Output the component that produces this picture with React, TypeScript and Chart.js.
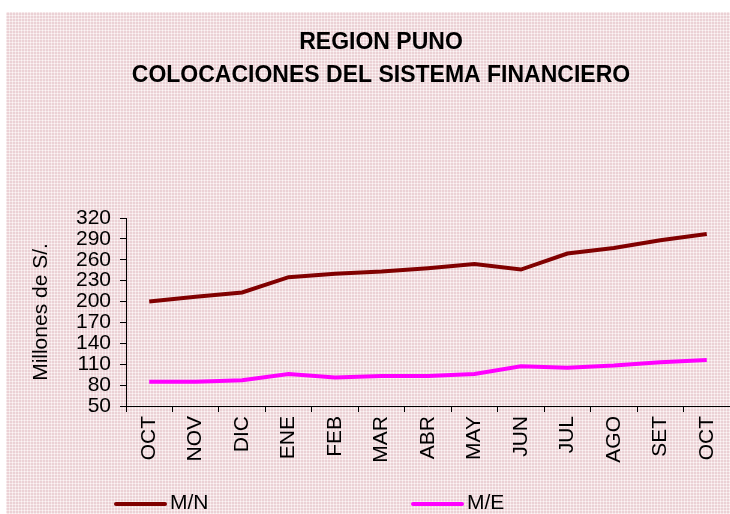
import React, { useEffect, useRef } from "react";
import { Chart, registerables } from "chart.js";

Chart.register(...registerables);

const titleLines = ["REGION PUNO", "COLOCACIONES DEL SISTEMA FINANCIERO"];
const yAxisTitle = "Millones de S/.";
const categories = ["OCT", "NOV", "DIC", "ENE", "FEB", "MAR", "ABR", "MAY", "JUN", "JUL", "AGO", "SET", "OCT"];
const seriesMN = [200, 207, 213, 235, 240, 243, 248, 254, 246, 269, 277, 288, 297];
const seriesME = [85, 85, 87, 96, 91, 93, 93, 96, 107, 105, 108, 113, 116];
const seriesLabels = ["M/N", "M/E"];
const yMin = 50;
const yMax = 320;
const yStep = 30;

const FONT = "'Liberation Sans', Arial, sans-serif";

function makePattern(ctx: CanvasRenderingContext2D) {
  const c = document.createElement("canvas");
  c.width = 3;
  c.height = 3;
  const p = c.getContext("2d")!;
  p.fillStyle = "#ebd1d5";
  p.fillRect(0, 0, 3, 3);
  p.fillStyle = "#f5e6e8";
  p.fillRect(0, 0, 3, 1);
  p.fillRect(0, 0, 1, 3);
  p.fillStyle = "#fcf6f6";
  p.fillRect(0, 0, 1, 1);
  return ctx.createPattern(c, "repeat");
}

const backgroundPlugin = {
  id: "bgPattern",
  beforeDraw(chart: any) {
    const ctx = chart.ctx as CanvasRenderingContext2D;
    ctx.save();
    ctx.fillStyle = "#ffffff";
    ctx.fillRect(0, 0, chart.width, chart.height);
    const pat = makePattern(ctx);
    if (pat) ctx.fillStyle = pat;
    ctx.fillRect(6, 12, chart.width - 6, chart.height - 12);
    ctx.restore();
  },
};

const titlePlugin = {
  id: "customTitle",
  afterDraw(chart: any) {
    const ctx = chart.ctx as CanvasRenderingContext2D;
    ctx.save();
    ctx.fillStyle = "#000000";
    ctx.font = `bold 23px ${FONT}`;
    ctx.textAlign = "center";
    ctx.textBaseline = "middle";
    titleLines.forEach((t, i) => {
      ctx.fillText(t, 381, 43 + i * 33);
    });
    ctx.restore();
  },
};

const legendPlugin = {
  id: "customLegend",
  afterDraw(chart: any) {
    const ctx = chart.ctx as CanvasRenderingContext2D;
    const starts = [115, 412];
    const y = 504;
    ctx.save();
    ctx.font = `21px ${FONT}`;
    ctx.textBaseline = "middle";
    ctx.textAlign = "left";
    chart.data.datasets.forEach((ds: any, i: number) => {
      const x = starts[i];
      ctx.strokeStyle = ds.borderColor;
      ctx.lineWidth = 4;
      ctx.lineCap = "round";
      ctx.beginPath();
      ctx.moveTo(x + 1, y);
      ctx.lineTo(x + 50, y);
      ctx.stroke();
      ctx.fillStyle = "#000000";
      ctx.fillText(ds.label, x + 55, y - 1);
    });
    ctx.restore();
  },
};

export default function App() {
  const ref = useRef<HTMLCanvasElement | null>(null);
  useEffect(() => {
    document.body.style.margin = "0";
    const canvas = ref.current!;
    const chart = new Chart(canvas, {
      type: "line",
      data: {
        labels: categories,
        datasets: [
          {
            label: seriesLabels[0],
            data: seriesMN,
            borderColor: "#800000",
            backgroundColor: "#800000",
            borderWidth: 4,
            pointRadius: 0,
            tension: 0,
          },
          {
            label: seriesLabels[1],
            data: seriesME,
            borderColor: "#ff00ff",
            backgroundColor: "#ff00ff",
            borderWidth: 4,
            pointRadius: 0,
            tension: 0,
          },
        ],
      },
      options: {
        animation: false,
        responsive: false,
        devicePixelRatio: 1,
        layout: { padding: { top: 218, left: 0, right: 0, bottom: 0 } },
        plugins: {
          legend: { display: false },
          title: { display: false },
          tooltip: { enabled: false },
        },
        scales: {
          x: {
            type: "category",
            offset: true,
            afterFit(scale: any) {
              scale.height = 108;
              scale.paddingLeft = 0;
              scale.paddingRight = 0;
            },
            grid: {
              display: true,
              offset: true,
              drawOnChartArea: false,
              drawTicks: true,
              tickLength: 6,
              color: "#000000",
            },
            border: { display: true, color: "#000000", width: 1 },
            ticks: {
              color: "#000000",
              font: { family: FONT, size: 21 },
              minRotation: 90,
              maxRotation: 90,
              autoSkip: false,
              padding: 4,
            },
          },
          y: {
            min: yMin,
            max: yMax,
            afterFit(scale: any) {
              scale.width = 126;
            },
            grid: {
              display: true,
              drawOnChartArea: false,
              drawTicks: true,
              tickLength: 6,
              color: "#000000",
            },
            border: { display: true, color: "#000000", width: 1 },
            ticks: {
              stepSize: yStep,
              color: "#000000",
              font: { family: FONT, size: 21 },
              padding: 9,
              autoSkip: false,
            },
            title: {
              display: true,
              text: yAxisTitle,
              color: "#000000",
              font: { family: FONT, size: 21 },
              padding: { top: 29, bottom: 0 },
            },
          },
        },
      },
      plugins: [backgroundPlugin, titlePlugin, legendPlugin],
    });
    return () => chart.destroy();
  }, []);
  return <canvas ref={ref} width={730} height={514} style={{ display: "block" }} />;
}
